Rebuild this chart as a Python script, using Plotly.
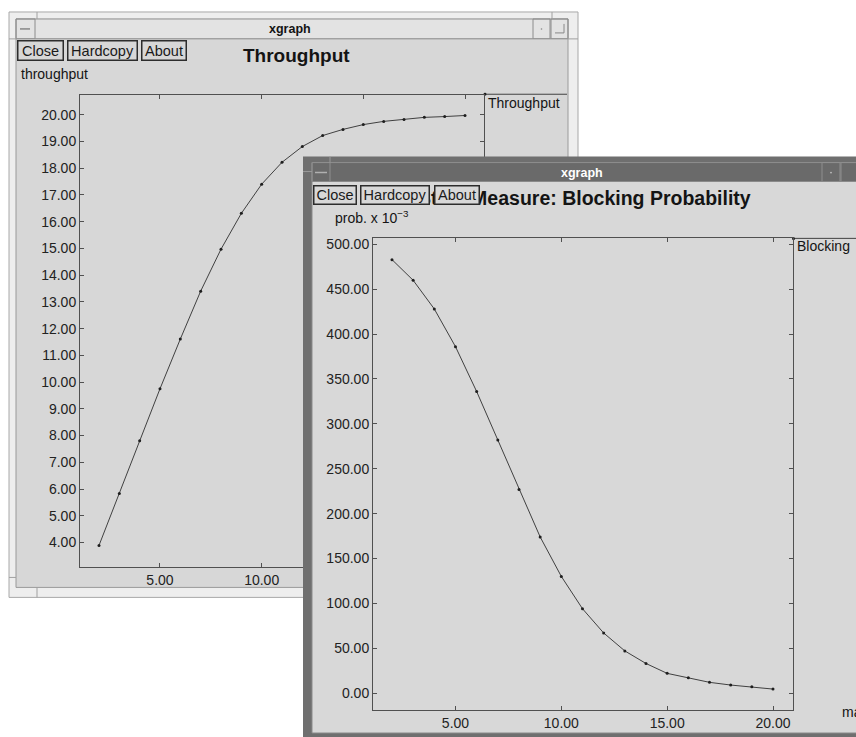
import plotly.graph_objects as go

W, H = 856, 737

# ---------------- data ----------------
x_vals = list(range(2, 21))
throughput = [3.89, 5.83, 7.81, 9.75, 11.61, 13.40, 14.97, 16.31, 17.40, 18.22,
              18.81, 19.22, 19.45, 19.63, 19.75, 19.82, 19.90, 19.93, 19.97]
blocking = [483, 460, 428, 386, 336, 282, 227, 174, 130, 94,
            67, 47, 33, 22, 17, 12, 9, 7, 4.5]
x_ticks = [5, 10, 15, 20]
y1_ticks = list(range(4, 21))
y2_ticks = list(range(0, 501, 50))

FONT = "Liberation Sans, Arial, Helvetica, sans-serif"
LINE = "#404040"


def px(x):
    return x / W


def py(y):
    return 1 - y / H


fig = go.Figure()
fig.add_trace(go.Scatter(x=x_vals, y=throughput, xaxis="x", yaxis="y",
                         mode="lines+markers", line=dict(color=LINE, width=1),
                         marker=dict(size=3, color="#1e1e1e"),
                         hoverinfo="skip", showlegend=False))
# helper subplot that holds the front window's backdrop
fig.add_trace(go.Scatter(x=[None], y=[None], xaxis="x2", yaxis="y2",
                         mode="markers", hoverinfo="skip", showlegend=False))
fig.add_trace(go.Scatter(x=x_vals, y=blocking, xaxis="x3", yaxis="y3",
                         mode="lines+markers", line=dict(color=LINE, width=1),
                         marker=dict(size=3, color="#1e1e1e"),
                         hoverinfo="skip", showlegend=False))

axcommon = dict(showgrid=False, zeroline=False, showline=True, linecolor="#505050",
                linewidth=1, mirror="ticks", ticks="inside", ticklen=4,
                tickcolor="#505050", tickformat=".2f",
                tickfont=dict(family=FONT, size=14, color="#222"), fixedrange=True)
hidden = dict(showgrid=False, zeroline=False, showline=False, showticklabels=False,
              ticks="", fixedrange=True)

shapes = []


def rect(x0, y0, x1, y1, fill=None, line=None, lw=1, ref="paper"):
    d = dict(type="rect", line=dict(color=line or "rgba(0,0,0,0)", width=lw if line else 0),
             fillcolor=fill or "rgba(0,0,0,0)", layer="below")
    if ref == "paper":
        d.update(xref="paper", yref="paper", x0=px(x0), x1=px(x1), y0=py(y0), y1=py(y1))
    else:
        d.update(xref="x2", yref="y2", x0=x0, x1=x1, y0=y0, y1=y1)
    shapes.append(d)


def seg(x0, y0, x1, y1, color, lw=1, ref="paper"):
    d = dict(type="line", line=dict(color=color, width=lw), layer="below")
    if ref == "paper":
        d.update(xref="paper", yref="paper", x0=px(x0), x1=px(x1), y0=py(y0), y1=py(y1))
    else:
        d.update(xref="x2", yref="y2", x0=x0, x1=x1, y0=y0, y1=y1)
    shapes.append(d)


def dot(x, y, r, color, ref="paper"):
    d = dict(type="circle", line=dict(width=0), fillcolor=color, layer="below")
    if ref == "paper":
        d.update(xref="paper", yref="paper", x0=px(x - r), x1=px(x + r), y0=py(y - r), y1=py(y + r))
    else:
        d.update(xref="x2", yref="y2", x0=x - r, x1=x + r, y0=y - r, y1=y + r)
    shapes.append(d)


# ---------- back window (Throughput) ----------
rect(9, 10, 578, 597, fill="#eeeeee", line="#a8a8a8")
rect(16, 17, 568, 37, fill="#e3e3e3", line="#8c8c8c")
rect(16, 17, 35, 37, line="#8c8c8c")
seg(20, 27, 30, 27, "#888", 1.5)
rect(533, 17, 550, 37, line="#8c8c8c")
dot(541.5, 27, 0.8, "#888")
rect(551, 17, 568, 37, line="#8c8c8c")
seg(555, 31, 564, 31, "#888", 1)
seg(564, 22, 564, 31, "#888", 1)
rect(16, 37, 568, 587, fill="#d7d7d7", line="#9a9a9a")
for xx in (37, 552):
    seg(xx, 10, xx, 17, "#a0a0a0")
    seg(xx, 587, xx, 597, "#a0a0a0")
for yy in (37, 577):
    seg(9, yy, 16, yy, "#a0a0a0")
    seg(568, yy, 578, yy, "#a0a0a0")
# legend sample line
seg(484, 92.5, 567, 92.5, LINE, 1)
dot(485, 92.5, 1.5, "#1e1e1e")

# ---------- front window (Blocking) : drawn in helper subplot x2/y2 ----------
rect(303, 154, 870, 750, fill="#6f6f6f", ref="x2")
rect(312, 161, 870, 180, fill="#6a6a6a", line="#8e8e8e", ref="x2")
rect(312, 161, 330, 180, line="#8e8e8e", ref="x2")
seg(315, 171, 327, 171, "#b0b0b0", 1.5, ref="x2")
rect(822, 161, 840, 180, line="#8e8e8e", ref="x2")
dot(831, 171, 0.9, "#c0c0c0", ref="x2")
rect(841, 161, 860, 180, line="#8e8e8e", ref="x2")
rect(312, 180, 870, 733, fill="#d8d8d8", line="#8a8a8a", ref="x2")
seg(303, 170, 312, 170, "#9a9a9a", ref="x2")
seg(330, 154, 330, 161, "#9a9a9a", ref="x2")
# legend sample line
seg(793, 237, 856, 237, LINE, 1, ref="x2")
dot(793.5, 237.5, 1.5, "#1e1e1e", ref="x2")

annotations = []


def ann(text, x, y, size=14, color="#141414", xanchor="center", yanchor="middle", **kw):
    annotations.append(dict(text=text, x=px(x), y=py(y), xref="paper", yref="paper",
                            xanchor=xanchor, yanchor=yanchor, showarrow=False,
                            font=dict(family=FONT, size=size, color=color), **kw))


def button(text, x0, x1, y0, y1, bg):
    bw = 1.5
    annotations.append(dict(text=text, x=px(x0), y=py(y0), xref="paper", yref="paper",
                            xanchor="left", yanchor="top", showarrow=False,
                            width=(x1 - x0) - 2 * bw, height=(y1 - y0) - 2 * bw,
                            bgcolor=bg, bordercolor="#2c2c2c", borderwidth=bw, borderpad=0,
                            font=dict(family=FONT, size=14.5, color="#1a1a1a")))


# back window texts
ann("<b>xgraph</b>", 290, 27, size=12.5)
button("Close", 17, 64, 38, 59, "#d7d7d7")
button("Hardcopy", 67, 138, 38, 59, "#d7d7d7")
button("About", 141, 187, 38, 59, "#d7d7d7")
ann("<b>Throughput</b>", 296, 54, size=19)
ann("throughput", 19, 72, size=14, xanchor="left")
ann("Throughput", 486, 101, size=14, xanchor="left")

# front window texts
ann("<b>xgraph</b>", 582, 171, size=12.5, color="#ffffff")
ann("<b>State Measure: Blocking Probability</b>", 584, 197, size=19.5)
button("Close", 313, 357, 183, 203, "#d8d8d8")
button("Hardcopy", 360, 430, 183, 203, "#d8d8d8")
button("About", 434, 480, 183, 203, "#d8d8d8")
ann("prob. x 10<sup>\u22123</sup>", 333, 216, size=14, xanchor="left")
ann("Blocking", 795, 245, size=14, xanchor="left")
ann("ma", 840, 712, size=14, xanchor="left")

fig.update_layout(
    width=W, height=H,
    margin=dict(l=0, r=0, t=0, b=0),
    paper_bgcolor="#ffffff", plot_bgcolor="rgba(0,0,0,0)",
    hovermode=False, showlegend=False,
    xaxis=dict(domain=[px(80), px(484)], range=[1.066, 20.934], anchor="y",
               tickvals=x_ticks, **axcommon),
    yaxis=dict(domain=[py(567), py(93)], range=[3.067, 20.746], anchor="x",
               tickvals=y1_ticks, **axcommon),
    xaxis2=dict(domain=[px(303), 1], range=[303, 856], anchor="y2", **hidden),
    yaxis2=dict(domain=[0, py(155)], range=[737, 155], anchor="x2", **hidden),
    xaxis3=dict(domain=[px(373), px(793)], range=[1.103, 20.945], anchor="y3",
                tickvals=x_ticks, **axcommon),
    yaxis3=dict(domain=[py(710), py(237)], range=[-18.9, 506.7], anchor="x3",
                tickvals=y2_ticks, **axcommon),
    shapes=shapes,
    annotations=annotations,
)

fig.write_html("out.html", config=dict(displayModeBar=False),
               post_script="document.body.style.margin='0px';document.body.style.overflow='hidden';")
